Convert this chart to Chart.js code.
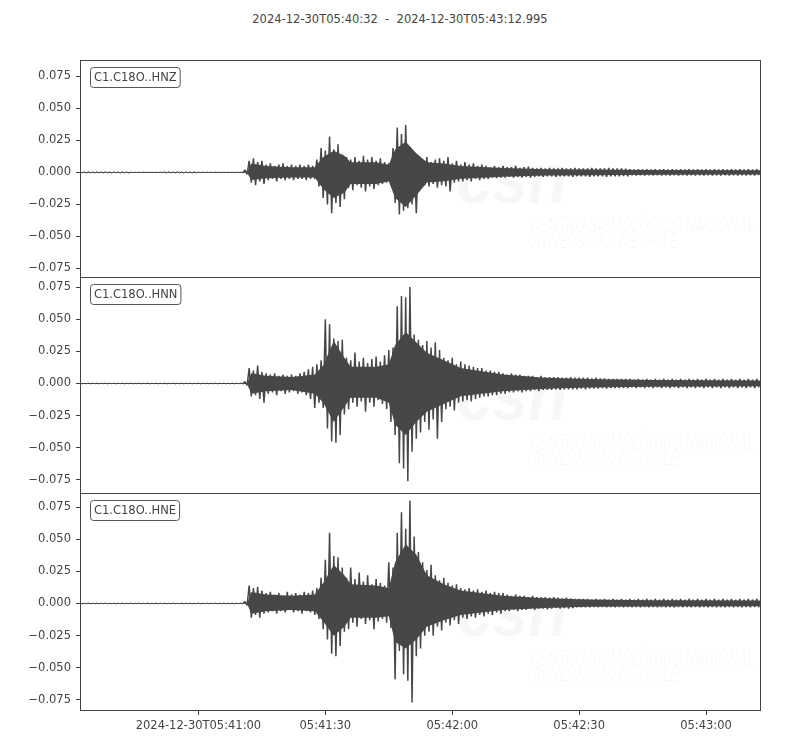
<!DOCTYPE html>
<html>
<head>
<meta charset="utf-8">
<script src="https://cdn.jsdelivr.net/npm/chart.js@4"></script>
<style>
  html, body { margin: 0; padding: 0; background: #fff; }
  #page { position: relative; width: 800px; height: 750px; overflow: hidden; }
  #title {
    position: absolute; left: 0; top: 12px; width: 800px; text-align: center;
    font: 11.5px "DejaVu Sans"; color: #444; white-space: pre;
  }
  canvas { position: absolute; left: 0; }
</style>
</head>
<body>
<div id="page">
  <div id="title">2024-12-30T05:40:32  -  2024-12-30T05:43:12.995</div>
  <canvas id="p0" width="800" height="218" style="top:60px"></canvas>
  <canvas id="p1" width="800" height="217" style="top:277px"></canvas>
  <canvas id="p2" width="800" height="257" style="top:493px"></canvas>
</div>
<script>
/* Seismogram, 3 channels.
   *_TOP / *_BOT: peak up / peak down in each 1 s bin (units of 1e-3).
   *_CORE_*: edge of the solid dark body of the trace at a few read-off times. */

const T_END = 160.995;          // seconds after 05:40:32
const AMP_SCALE = 0.001;
const CHANNELS = ['C1.C18O..HNZ', 'C1.C18O..HNN', 'C1.C18O..HNE'];
const Y_TICKS = [-0.075, -0.05, -0.025, 0, 0.025, 0.05, 0.075];
const X_TICK_SECONDS = [28, 58, 88, 118, 148];
const X_TICK_LABELS = ['2024-12-30T05:41:00', '05:41:30', '05:42:00', '05:42:30', '05:43:00'];
const Y_LIMITS = [[-0.0826, 0.0879], [-0.0859, 0.0828], [-0.0836, 0.0859]];

const HNZ_TOP = [
  0.5, 0.4, 0.5, 0.4, 0.5, 0.4, 0.5, 0.4, 0.5, 0.4,
  0.5, 0.4, 0.2, 0.2, 0.2, 0.2, 0.2, 0.2, 0.2, 0.2,
  0.4, 0.5, 0.4, 0.5, 0.4, 0.5, 0.4, 0.5, 0.2, 0.2,
  0.2, 0.2, 0.2, 0.2, 0.2, 0.2, 0.2, 0.2, 0.3, 2,
  9, 11, 8, 9, 6, 7, 5, 6, 7, 5,
  6, 5, 6, 5, 6, 5, 10, 19, 17, 28,
  18, 22, 14, 12, 10, 12, 9, 13, 10, 12,
  9, 11, 8, 7, 19, 35, 30, 37, 20, 16,
  11, 9, 12, 8, 10, 11, 9, 12, 7, 9,
  6, 8, 6, 7, 5, 6, 5, 4, 5, 4,
  5, 4, 4, 5, 3.5, 4, 4.5, 3.5, 3, 3.5,
  3, 3.5, 3, 3, 3.5, 3, 3, 3.5, 3, 3,
  3, 3.5, 3, 3, 3, 3.5, 3, 3, 3, 2.8,
  2.4, 2.2, 2.5, 2.2, 2.4, 2.2, 2.5, 2.2, 2.4, 2.2,
  2.4, 2.2, 2.5, 2.2, 2.4, 2.2, 2.5, 2.2, 2.4, 2.2,
  2.4, 2.2, 2.5, 2.2, 2.4, 2.2, 2.5, 2.2, 2.4, 2.2, 2.4,
];
const HNZ_BOT = [
  -0.4, -0.5, -0.4, -0.5, -0.4, -0.5, -0.4, -0.5, -0.4, -0.5,
  -0.4, -0.5, -0.2, -0.2, -0.2, -0.2, -0.2, -0.2, -0.2, -0.2,
  -0.5, -0.4, -0.5, -0.4, -0.5, -0.4, -0.5, -0.4, -0.2, -0.2,
  -0.2, -0.2, -0.2, -0.2, -0.2, -0.2, -0.2, -0.2, -0.3, -1.5,
  -8, -10, -7, -9, -6, -5, -7, -5, -6, -5,
  -6, -5, -5, -6, -5, -5, -11, -20, -25, -32,
  -24, -27, -21, -12, -14, -10, -12, -15, -11, -13,
  -10, -9, -8, -10, -24, -33, -30, -28, -25, -32,
  -12, -10, -11, -9, -12, -10, -11, -15, -8, -7,
  -7, -6, -7, -5, -6, -5, -5, -4, -4.5, -4,
  -4, -3.5, -4, -3.5, -4, -3.5, -4, -3.5, -3, -3.5,
  -3, -3, -3.5, -3, -3, -3, -3.5, -3, -3, -3,
  -3.5, -3, -3, -3, -3.5, -3, -3, -3, -2.8, -3,
  -2.2, -2.4, -2.2, -2.5, -2.2, -2.4, -2.2, -2.5, -2.2, -2.4,
  -2.2, -2.4, -2.2, -2.5, -2.2, -2.4, -2.2, -2.5, -2.2, -2.4,
  -2.2, -2.4, -2.2, -2.5, -2.2, -2.4, -2.2, -2.5, -2.2, -2.4, -2.2,
];

const HNN_TOP = [
  0.3, 0.2, 0.3, 0.2, 0.3, 0.2, 0.3, 0.2, 0.3, 0.2,
  0.3, 0.2, 0.3, 0.2, 0.3, 0.2, 0.3, 0.2, 0.3, 0.2,
  0.3, 0.2, 0.3, 0.2, 0.3, 0.2, 0.3, 0.2, 0.3, 0.2,
  0.3, 0.2, 0.3, 0.2, 0.3, 0.2, 0.3, 0.2, 0.3, 1.5,
  12, 10, 14, 9, 8, 7, 8, 6, 7, 6,
  7, 6, 8, 9, 11, 13, 15, 18, 50, 46,
  35, 33, 34, 20, 18, 24, 17, 20, 16, 19,
  21, 17, 22, 26, 28, 60, 68, 67, 75, 38,
  34, 30, 33, 28, 32, 26, 20, 18, 20, 15,
  17, 15, 14, 13, 12, 12, 10, 10, 9, 9,
  8, 7, 8, 7, 7, 6, 6, 6, 5, 6,
  5, 5, 5, 5, 4.5, 4.5, 5, 4.5, 4.5, 4.5,
  4.5, 4, 4.5, 4, 4, 3.5, 3.5, 3.5, 3.5, 3.5,
  3.5, 3, 3.5, 3, 3.5, 3, 3.5, 3, 3.5, 3,
  3.5, 3, 3.5, 3, 3.5, 3, 3.5, 3, 3.5, 3,
  3.5, 3, 3.5, 3, 3.5, 3, 3.5, 3, 3.5, 3, 3.5,
];
const HNN_BOT = [
  -0.3, -0.2, -0.3, -0.2, -0.3, -0.2, -0.3, -0.2, -0.3, -0.2,
  -0.3, -0.2, -0.3, -0.2, -0.3, -0.2, -0.3, -0.2, -0.3, -0.2,
  -0.3, -0.2, -0.3, -0.2, -0.3, -0.2, -0.3, -0.2, -0.3, -0.2,
  -0.3, -0.2, -0.3, -0.2, -0.3, -0.2, -0.3, -0.2, -0.3, -1.5,
  -10, -9, -12, -15, -8, -7, -9, -6, -8, -7,
  -6, -8, -7, -9, -12, -19, -15, -19, -35, -45,
  -46, -40, -24, -20, -15, -18, -14, -22, -15, -18,
  -13, -16, -20, -30, -40, -62, -66, -76, -53, -43,
  -38, -30, -36, -28, -43, -30, -20, -18, -21, -15,
  -14, -13, -14, -12, -11, -10, -10, -9, -9, -8,
  -8, -7, -7, -6, -7, -6, -6, -5, -6, -5,
  -5, -5, -4.5, -5, -4.5, -4.5, -4.5, -4.5, -4, -4.5,
  -4, -4, -4, -3.5, -4, -3.5, -3.5, -3.5, -3.5, -3.5,
  -3, -3.5, -3, -3.5, -3, -3.5, -3, -3.5, -3, -3.5,
  -3, -3.5, -3, -3.5, -3, -3.5, -3, -3.5, -3, -3.5,
  -3, -3.5, -3, -3.5, -3, -3.5, -3, -3.5, -3, -3.5, -3,
];

const HNE_TOP = [
  0.3, 0.2, 0.3, 0.2, 0.3, 0.2, 0.3, 0.2, 0.3, 0.2,
  0.3, 0.2, 0.3, 0.2, 0.3, 0.2, 0.3, 0.2, 0.3, 0.2,
  0.3, 0.2, 0.3, 0.2, 0.3, 0.2, 0.3, 0.2, 0.3, 0.2,
  0.3, 0.2, 0.3, 0.2, 0.3, 0.2, 0.3, 0.2, 0.3, 1.5,
  14, 12, 13, 10, 8, 9, 7, 8, 6, 9,
  7, 8, 7, 9, 8, 10, 12, 20, 34, 55,
  37, 36, 28, 20, 28, 19, 24, 17, 22, 15,
  19, 16, 14, 32, 28, 55, 71, 58, 80, 52,
  40, 32, 26, 30, 22, 18, 20, 16, 14, 15,
  12, 11, 12, 10, 11, 9, 10, 8, 9, 8,
  8, 7, 6, 7, 6, 6, 5, 6, 5, 5,
  5, 4.5, 5, 4.5, 4, 4.5, 4, 3.5, 3.5, 3.5,
  3.5, 3, 3.5, 3, 3.5, 3, 3.5, 3, 3.5, 3,
  3.5, 3, 3.5, 3, 3.5, 3, 3.5, 3, 3.5, 3,
  3.5, 3, 3.5, 3, 3.5, 3, 3.5, 3, 3.5, 3,
  3.5, 3, 3.5, 3, 3.5, 3, 3.5, 3, 3.5, 3, 3.5,
];
const HNE_BOT = [
  -0.3, -0.2, -0.3, -0.2, -0.3, -0.2, -0.3, -0.2, -0.3, -0.2,
  -0.3, -0.2, -0.3, -0.2, -0.3, -0.2, -0.3, -0.2, -0.3, -0.2,
  -0.3, -0.2, -0.3, -0.2, -0.3, -0.2, -0.3, -0.2, -0.3, -0.2,
  -0.3, -0.2, -0.3, -0.2, -0.3, -0.2, -0.3, -0.2, -0.3, -1.5,
  -11, -9, -11, -8, -7, -6, -8, -6, -7, -5,
  -7, -6, -8, -6, -7, -9, -12, -20, -28, -39,
  -41, -33, -22, -20, -15, -18, -12, -16, -13, -20,
  -14, -12, -15, -19, -59, -37, -55, -60, -77, -41,
  -35, -25, -22, -25, -18, -21, -15, -17, -13, -16,
  -11, -12, -10, -11, -9, -10, -8, -9, -7, -8,
  -6, -6, -5, -6, -5, -5, -4, -5, -4, -4,
  -4.5, -4, -3.5, -4, -3.5, -4, -3.5, -3, -3, -3,
  -3, -2.8, -3, -2.8, -3, -2.8, -3, -2.8, -3, -2.8,
  -3, -2.8, -3, -2.8, -3, -2.8, -3, -2.8, -3, -2.8,
  -3, -2.8, -3, -2.8, -3, -2.8, -3, -2.8, -3, -2.8,
  -3, -2.8, -3, -2.8, -3, -2.8, -3, -2.8, -3, -2.8, -3,
];

// solid body of each trace, read at these times (s)
const CORE_T = [0, 39.5, 40.5, 44, 50, 55.5, 57.5, 60, 62.5, 64, 70, 73, 74.5, 77, 79.5, 82, 86, 90, 100, 110, 120, 135, 161];
const HNZ_CORE_TOP = [0.3, 0.3, 7, 5, 4, 4, 12, 17, 13, 8, 8, 6, 18, 24, 15, 8, 7, 5, 3.5, 2.5, 2.2, 1.8, 1.6];
const HNZ_CORE_BOT = [-0.3, -0.3, -6, -4.5, -4, -4, -13, -20, -16, -9, -9, -7, -20, -27, -18, -8, -7, -5, -3.5, -2.5, -2.2, -1.8, -1.6];
const HNN_CORE_TOP = [0.3, 0.3, 8, 6, 5, 7, 14, 33, 20, 13, 13, 15, 30, 40, 32, 24, 18, 12, 7, 4.5, 3.5, 2.8, 2.4];
const HNN_CORE_BOT = [-0.3, -0.3, -8, -6, -5, -8, -15, -30, -18, -11, -11, -15, -32, -40, -30, -22, -16, -10, -6, -4, -3.2, -2.6, -2.2];
const HNE_CORE_TOP = [0.3, 0.3, 9, 7, 6, 7, 16, 30, 22, 15, 14, 12, 32, 46, 38, 22, 15, 10, 6, 4, 3, 2.6, 2.4];
const HNE_CORE_BOT = [-0.3, -0.3, -8, -6, -5, -6, -14, -25, -18, -11, -11, -10, -30, -35, -28, -18, -13, -9, -5, -3.5, -2.6, -2.4, -2.2];

const TRACES = [
  [HNZ_TOP, HNZ_BOT, HNZ_CORE_TOP, HNZ_CORE_BOT],
  [HNN_TOP, HNN_BOT, HNN_CORE_TOP, HNN_CORE_BOT],
  [HNE_TOP, HNE_BOT, HNE_CORE_TOP, HNE_CORE_BOT],
];

const FONT = 'DejaVu Sans';
const TEXT_COLOR = '#444';
const TRACE_COLOR = '#474747';

/* one swing per bin: peak at i s, trough at i + 0.5 s */
function buildTrace(top, bot) {
  const pts = [];
  top.forEach((v, i) => {
    pts.push({ x: i, y: v * AMP_SCALE });
    pts.push({ x: i + 0.5, y: bot[i] * AMP_SCALE });
  });
  return pts;
}

function corePoints(vals) {
  return vals.map((v, i) => ({ x: CORE_T[i], y: v * AMP_SCALE }));
}

// thin line while the trace is quiet
function segWidth(ctx) {
  const a = Math.max(Math.abs(ctx.p0.parsed.y), Math.abs(ctx.p1.parsed.y));
  return a < 0.001 ? 1 : 1.5;
}

function fmtY(v) {
  return v.toFixed(3).replace('-', '\u2212');
}

/* ---- plugins ---- */
const framePlugin = {
  id: 'frame',
  afterDraw(chart) {
    const { ctx, chartArea: a } = chart;
    ctx.save();
    ctx.strokeStyle = '#444';
    ctx.lineWidth = 1;
    ctx.strokeRect(a.left + 0.5, a.top + 0.5, a.right - a.left - 1, a.bottom - a.top - 1);
    ctx.restore();
  },
};

const labelPlugin = {
  id: 'chanLabel',
  afterDraw(chart, args, opts) {
    const { ctx, chartArea: a } = chart;
    ctx.save();
    ctx.font = '11.5px "' + FONT + '"';
    const w = ctx.measureText(opts.text).width + 7;
    const x = a.left + 10, y = a.top + 7.5, h = 20;
    ctx.beginPath();
    ctx.roundRect(x + 0.5, y, w, h, 3);
    ctx.fillStyle = '#fff';
    ctx.fill();
    ctx.strokeStyle = '#555';
    ctx.lineWidth = 1;
    ctx.stroke();
    ctx.fillStyle = TEXT_COLOR;
    ctx.textBaseline = 'middle';
    ctx.fillText(opts.text, x + 4, y + h / 2 + 0.5);
    ctx.restore();
  },
};

// squeeze text horizontally so it spans a given width
function fitText(ctx, text, x, y, width) {
  const k = width / ctx.measureText(text).width;
  ctx.save();
  ctx.translate(x, y);
  ctx.scale(k, 1);
  ctx.fillText(text, 0, 0);
  ctx.restore();
}

const watermarkPlugin = {
  id: 'watermark',
  beforeDatasetsDraw(chart) {
    const { ctx, chartArea: a } = chart;
    ctx.save();
    ctx.fillStyle = 'rgba(0,0,0,0.03)';
    ctx.font = 'italic bold 72px "Liberation Sans"';
    fitText(ctx, 'csn', 457, a.top + 143, 110);
    ctx.font = 'italic 300 20px Roboto';
    fitText(ctx, 'CENTRO SISMOLÓGICO NACIONAL', 530, a.top + 172, 225);
    fitText(ctx, 'UNIVERSIDAD DE CHILE', 528, a.top + 188, 150);
    ctx.restore();
  },
};

/* ---- panels ---- */
function makePanel(idx) {
  const last = idx === CHANNELS.length - 1;
  const [top, bot, coreTop, coreBot] = TRACES[idx];
  const tickFont = { family: FONT, size: 11.5 };
  const band = { borderWidth: 0, pointRadius: 0, tension: 0, backgroundColor: TRACE_COLOR };

  return new Chart(document.getElementById('p' + idx), {
    type: 'line',
    data: {
      datasets: [
        {
          data: buildTrace(top, bot),
          borderColor: TRACE_COLOR,
          borderWidth: 1.5,
          borderJoinStyle: 'bevel',
          segment: { borderWidth: segWidth },
          pointRadius: 0,
          tension: 0,
          fill: false,
        },
        { ...band, data: corePoints(coreTop), fill: '+1' },
        { ...band, data: corePoints(coreBot), fill: false },
      ],
    },
    options: {
      responsive: false,
      animation: false,
      events: [],
      layout: { padding: { top: 0, right: 39, bottom: 0, left: 0 } },
      plugins: {
        legend: { display: false },
        tooltip: { enabled: false },
        chanLabel: { text: CHANNELS[idx] },
      },
      scales: {
        x: {
          type: 'linear',
          min: 0,
          max: T_END,
          display: last,
          afterBuildTicks: (axis) => { axis.ticks = X_TICK_SECONDS.map((v) => ({ value: v })); },
          afterFit: (axis) => {
            if (last) axis.height = 39;
            axis.paddingLeft = 0;
            axis.paddingRight = 0;
          },
          grid: { drawOnChartArea: false, tickLength: 4, color: '#444' },
          border: { display: false },
          ticks: {
            autoSkip: false,
            maxRotation: 0,
            padding: 4,
            color: TEXT_COLOR,
            font: tickFont,
            callback: (v, i) => X_TICK_LABELS[i],
          },
        },
        y: {
          min: Y_LIMITS[idx][0],
          max: Y_LIMITS[idx][1],
          afterBuildTicks: (axis) => { axis.ticks = Y_TICKS.map((v) => ({ value: v })); },
          afterFit: (axis) => {
            axis.width = 80;
            axis.paddingTop = 0;
            axis.paddingBottom = 0;
          },
          grid: { drawOnChartArea: false, tickLength: 4, color: '#444' },
          border: { display: false },
          ticks: {
            padding: 5,
            color: TEXT_COLOR,
            font: tickFont,
            callback: (v) => fmtY(v),
          },
        },
      },
    },
    plugins: [watermarkPlugin, framePlugin, labelPlugin],
  });
}

CHANNELS.forEach((_, i) => makePanel(i));
</script>
</body>
</html>
